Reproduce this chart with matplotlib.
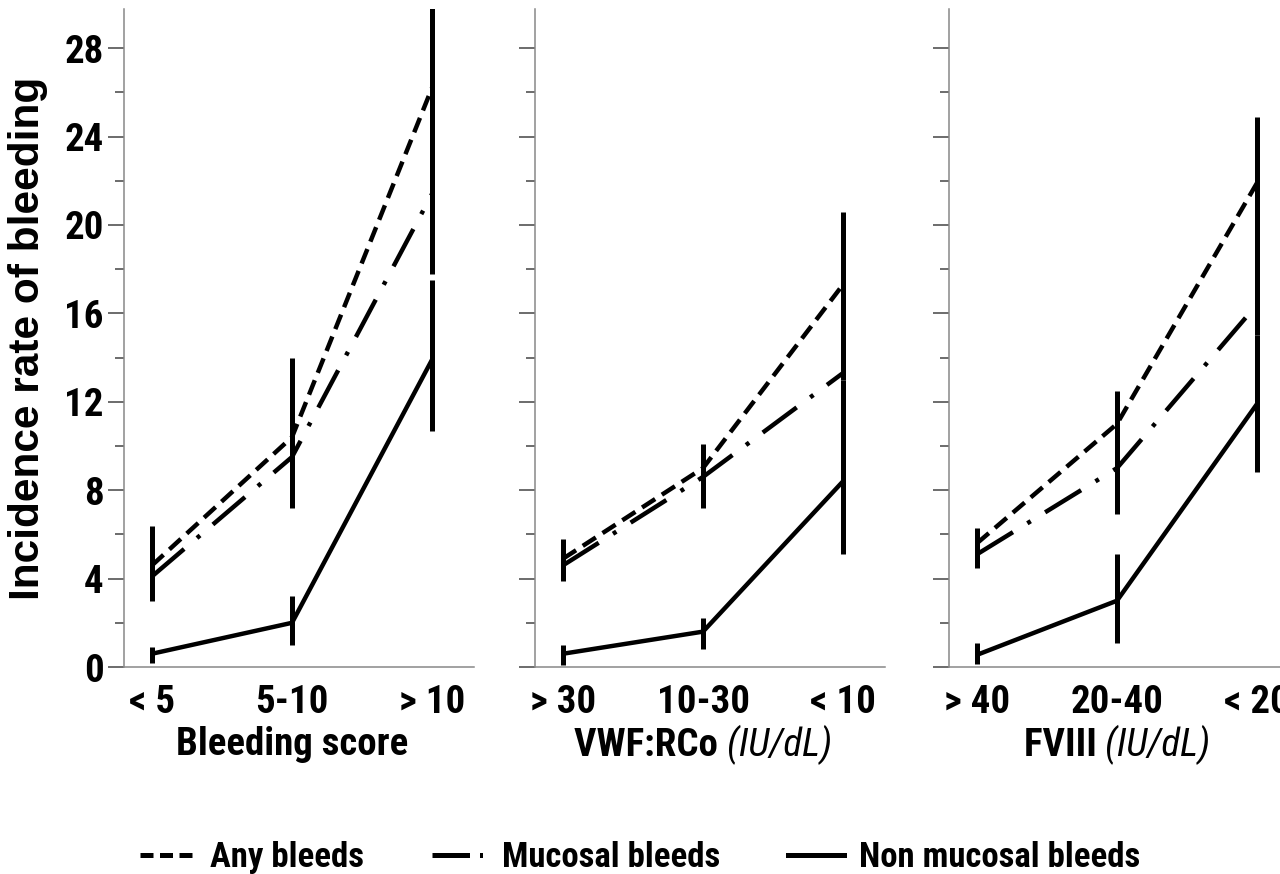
import matplotlib
matplotlib.use("Agg")
import matplotlib.pyplot as plt
import numpy as np
from matplotlib.lines import Line2D
from matplotlib.ticker import MultipleLocator
from matplotlib.offsetbox import TextArea, HPacker, AnnotationBbox

# categories per panel
cats_score = ["< 5", "5-10", "> 10"]
cats_vwf = ["> 30", "10-30", "< 10"]
cats_fviii = ["> 40", "20-40", "< 20"]

# incidence rates
any_score = [4.6, 10.4, 26.2]
muc_score = [4.1, 9.5, 21.4]
non_score = [0.6, 2.0, 13.9]
any_vwf = [4.9, 9.0, 17.3]
muc_vwf = [4.6, 8.6, 13.3]
non_vwf = [0.6, 1.6, 8.4]
any_fviii = [5.6, 11.0, 21.9]
muc_fviii = [5.1, 9.0, 16.4]
non_fviii = [0.55, 3.0, 11.9]

# confidence limits (low, high)
any_score_lo = [3.0, 7.2, 17.8]
any_score_hi = [6.4, 14.0, 31.0]
non_score_lo = [0.2, 1.0, 10.7]
non_score_hi = [0.9, 3.2, 17.5]
any_vwf_lo = [3.9, 7.2, 13.0]
any_vwf_hi = [5.8, 10.1, 20.6]
non_vwf_lo = [0.1, 0.8, 5.1]
non_vwf_hi = [1.0, 2.2, 13.0]
any_fviii_lo = [4.5, 6.9, 15.0]
any_fviii_hi = [6.3, 12.5, 24.9]
non_fviii_lo = [0.15, 1.1, 8.8]
non_fviii_hi = [1.1, 5.1, 15.0]

NARROW = ["Liberation Sans Narrow", "Arial Narrow", "Roboto Condensed",
          "Archivo Narrow", "Liberation Sans", "DejaVu Sans"]
plt.rcParams["font.family"] = NARROW
plt.rcParams["font.weight"] = "bold"

fig = plt.figure(figsize=(12.8, 8.74), dpi=100)

W, H = 1280.0, 874.0
bottom = (H - 667) / H
height = (667 - 9) / H
lefts = [124 / W, 535 / W, 949 / W]
width = 350 / W

panels = [
    (cats_score, any_score, muc_score, non_score,
     any_score_lo, any_score_hi, non_score_lo, non_score_hi,
     "Bleeding score", None),
    (cats_vwf, any_vwf, muc_vwf, non_vwf,
     any_vwf_lo, any_vwf_hi, non_vwf_lo, non_vwf_hi,
     "VWF:RCo ", "(IU/dL)"),
    (cats_fviii, any_fviii, muc_fviii, non_fviii,
     any_fviii_lo, any_fviii_hi, non_fviii_lo, non_fviii_hi,
     "FVIII ", "(IU/dL)"),
]

any_ls = (0, (3.5, 1.8))
muc_ls = (0, (9.5, 3.8, 0.9, 3.8))
lw = 3.2
elw = 3.6

for i, (cats, a, m, n, alo, ahi, nlo, nhi, lab, lab_it) in enumerate(panels):
    ax = fig.add_axes([lefts[i], bottom, width, height])
    x = np.arange(len(cats))
    a = np.array(a); n = np.array(n)
    ax.errorbar(x, a, yerr=[a - np.array(alo), np.array(ahi) - a], fmt="none",
                ecolor="black", elinewidth=elw, capsize=0)
    ax.errorbar(x, n, yerr=[n - np.array(nlo), np.array(nhi) - n], fmt="none",
                ecolor="black", elinewidth=elw, capsize=0)
    ax.plot(x, a, color="black", lw=lw, ls=any_ls, dash_capstyle="butt")
    ax.plot(x, m, color="black", lw=lw, ls=muc_ls, dash_capstyle="butt")
    ax.plot(x, n, color="black", lw=lw, solid_capstyle="butt")

    ax.set_xlim(-0.2, 2.3)
    ax.set_ylim(0, 29.77)
    ax.set_xticks(x)
    ax.set_xticklabels(cats, fontsize=28, fontweight="bold")
    ax.tick_params(axis="x", length=0, pad=12)
    ax.yaxis.set_major_locator(MultipleLocator(4))
    ax.yaxis.set_minor_locator(MultipleLocator(2))
    ax.tick_params(axis="y", which="major", length=11.5, width=1.1,
                   color="#444444", labelsize=28, pad=3)
    ax.tick_params(axis="y", which="minor", length=6.5, width=1.1,
                   color="#444444")
    for t in ax.get_yticklabels():
        t.set_fontweight("bold")
    if i > 0:
        ax.tick_params(axis="y", which="both", labelleft=False)
    for s in ["top", "right"]:
        ax.spines[s].set_visible(False)
    for s in ["left", "bottom"]:
        ax.spines[s].set_color("#888888")
        ax.spines[s].set_linewidth(1.1)
    ax.patch.set_alpha(0)

    parts = [TextArea(lab, textprops=dict(fontsize=28, fontweight="bold",
                                          family=NARROW))]
    if lab_it:
        parts.append(TextArea(lab_it, textprops=dict(fontsize=28, fontweight="normal",
                                                     style="italic", family=NARROW)))
    box = HPacker(children=parts, pad=0, sep=0, align="baseline")
    ab = AnnotationBbox(box, (1, 0), xycoords=("data", "axes fraction"),
                        xybox=(0, -56), boxcoords="offset points",
                        box_alignment=(0.5, 0.5), frameon=False,
                        annotation_clip=False)
    ax.add_artist(ab)

    if i == 0:
        ax.set_ylabel("Incidence rate of bleeding", fontsize=30.5, fontweight="bold",
                      family=["Liberation Sans", "DejaVu Sans"], labelpad=12)

handles = [
    Line2D([], [], color="black", lw=3.6, ls=(0, (2.6, 1.3)), dash_capstyle="butt"),
    Line2D([], [], color="black", lw=3.6, ls=(0, (7.5, 2.0, 0.6, 2.0)), dash_capstyle="butt"),
    Line2D([], [], color="black", lw=3.6),
]
labels = ["Any bleeds", "Mucosal bleeds", "Non mucosal bleeds"]
fig.legend(handles, labels, loc="center", bbox_to_anchor=(0.5, 0.019), ncol=3,
           frameon=False, handlelength=1.6, handletextpad=0.43,
           columnspacing=1.95, prop=dict(family=NARROW, weight="bold", size=25))

fig.savefig("out.png", dpi=100)
